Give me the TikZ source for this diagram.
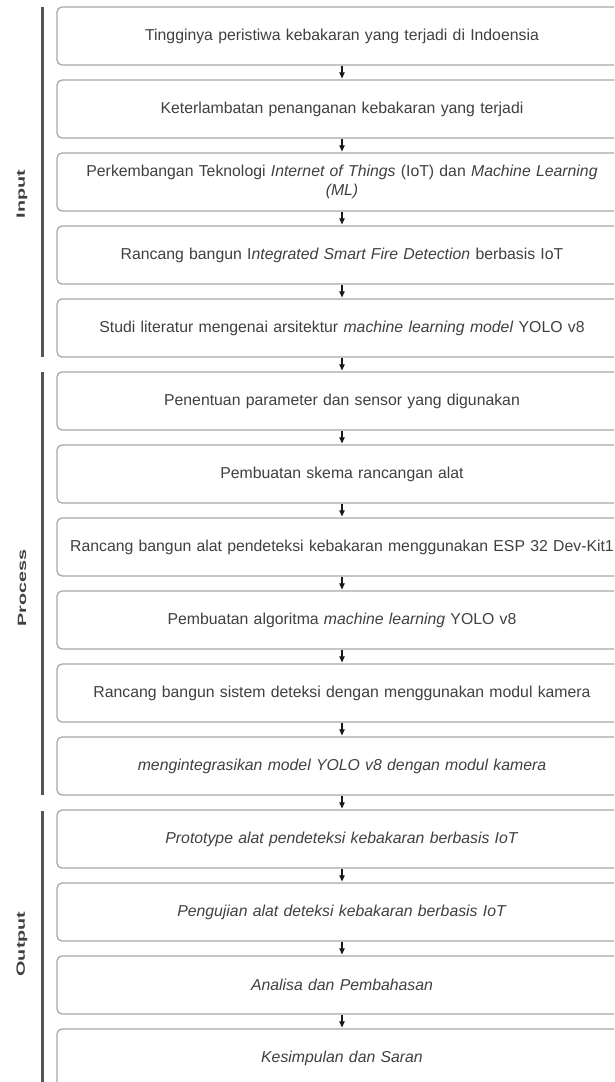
\documentclass[tikz,border=0pt]{standalone}
\usepackage{fontspec}
\setmainfont{Liberation Sans}
\usetikzlibrary{arrows.meta}
\definecolor{boxline}{HTML}{A8A8A8}
\definecolor{txt}{HTML}{404040}
\definecolor{barc}{HTML}{555555}
\tikzset{
  stepbox/.style={draw=boxline, line width=1.3pt, rounded corners=5pt, fill=white,
    minimum width=570pt, minimum height=58pt, text width=570pt, align=center,
    font=\fontsize{15.8}{19}\selectfont, text=txt, inner sep=0pt},
  arr/.style={draw=black!90, line width=1.1pt, -{Triangle[length=6pt,width=5.5pt]}, shorten >=1pt},
  bar/.style={draw=barc, line width=3pt},
  phase/.style={rotate=90, font=\bfseries\fontsize{12}{14}\selectfont, text=txt}
}
\newcommand{\stretchlab}[1]{\scalebox{1.65}[1]{#1}}
\begin{document}
\begin{tikzpicture}[x=1pt,y=-1pt]
\useasboundingbox (0,0) rectangle (614,1082);
\clip (0,0) rectangle (614,1082);
\fill[white] (0,0) rectangle (614,1082);
% boxes: top = 7 + (i-1)*73, center = top + 29
\node[stepbox] (b1) at (342,36) {Tingginya peristiwa kebakaran yang terjadi di Indoensia};
\node[stepbox] (b2) at (342,109) {Keterlambatan penanganan kebakaran yang terjadi};
\node[stepbox] (b3) at (342,182) {Perkembangan Teknologi \textit{Internet of Things} (IoT) dan \textit{Machine Learning}\\\textit{(ML)}};
\node[stepbox] (b4) at (342,255) {Rancang bangun I\textit{ntegrated Smart Fire Detection} berbasis IoT};
\node[stepbox] (b5) at (342,328) {Studi literatur mengenai arsitektur \textit{machine learning model} YOLO v8};
\node[stepbox] (b6) at (342,401) {Penentuan parameter dan sensor yang digunakan};
\node[stepbox] (b7) at (342,474) {Pembuatan skema rancangan alat};
\node[stepbox] (b8) at (342,547) {Rancang bangun alat pendeteksi kebakaran menggunakan ESP 32 Dev-Kit1};
\node[stepbox] (b9) at (342,620) {Pembuatan algoritma \textit{machine learning} YOLO v8};
\node[stepbox] (b10) at (342,693) {Rancang bangun sistem deteksi dengan menggunakan modul kamera};
\node[stepbox] (b11) at (342,766) {\textit{mengintegrasikan model YOLO v8 dengan modul kamera}};
\node[stepbox] (b12) at (342,839) {\textit{Prototype alat pendeteksi kebakaran berbasis IoT}};
\node[stepbox] (b13) at (342,912) {\textit{Pengujian alat deteksi kebakaran berbasis IoT}};
\node[stepbox] (b14) at (342,985) {\textit{Analisa dan Pembahasan}};
\node[stepbox] (b15) at (342,1058) {\textit{Kesimpulan dan Saran}};
\foreach \a/\b in {1/2,2/3,3/4,4/5,5/6,6/7,7/8,8/9,9/10,10/11,11/12,12/13,13/14,14/15}
  \draw[arr] (b\a.south) -- (b\b.north);
% phase bars
\coordinate (inA) at (42,7);   \coordinate (inB) at (42,357);
\coordinate (prA) at (42,372); \coordinate (prB) at (42,795);
\coordinate (ouA) at (42,811); \coordinate (ouB) at (42,1082);
\draw[bar] (inA) -- (inB);
\draw[bar] (prA) -- (prB);
\draw[bar] (ouA) -- (ouB);
\node[phase] (lin) at (22,194) {\stretchlab{Input}};
\node[phase] (lpr) at (22,588) {\stretchlab{Process}};
\node[phase] (lou) at (22,944) {\stretchlab{Output}};
\end{tikzpicture}
\end{document}
